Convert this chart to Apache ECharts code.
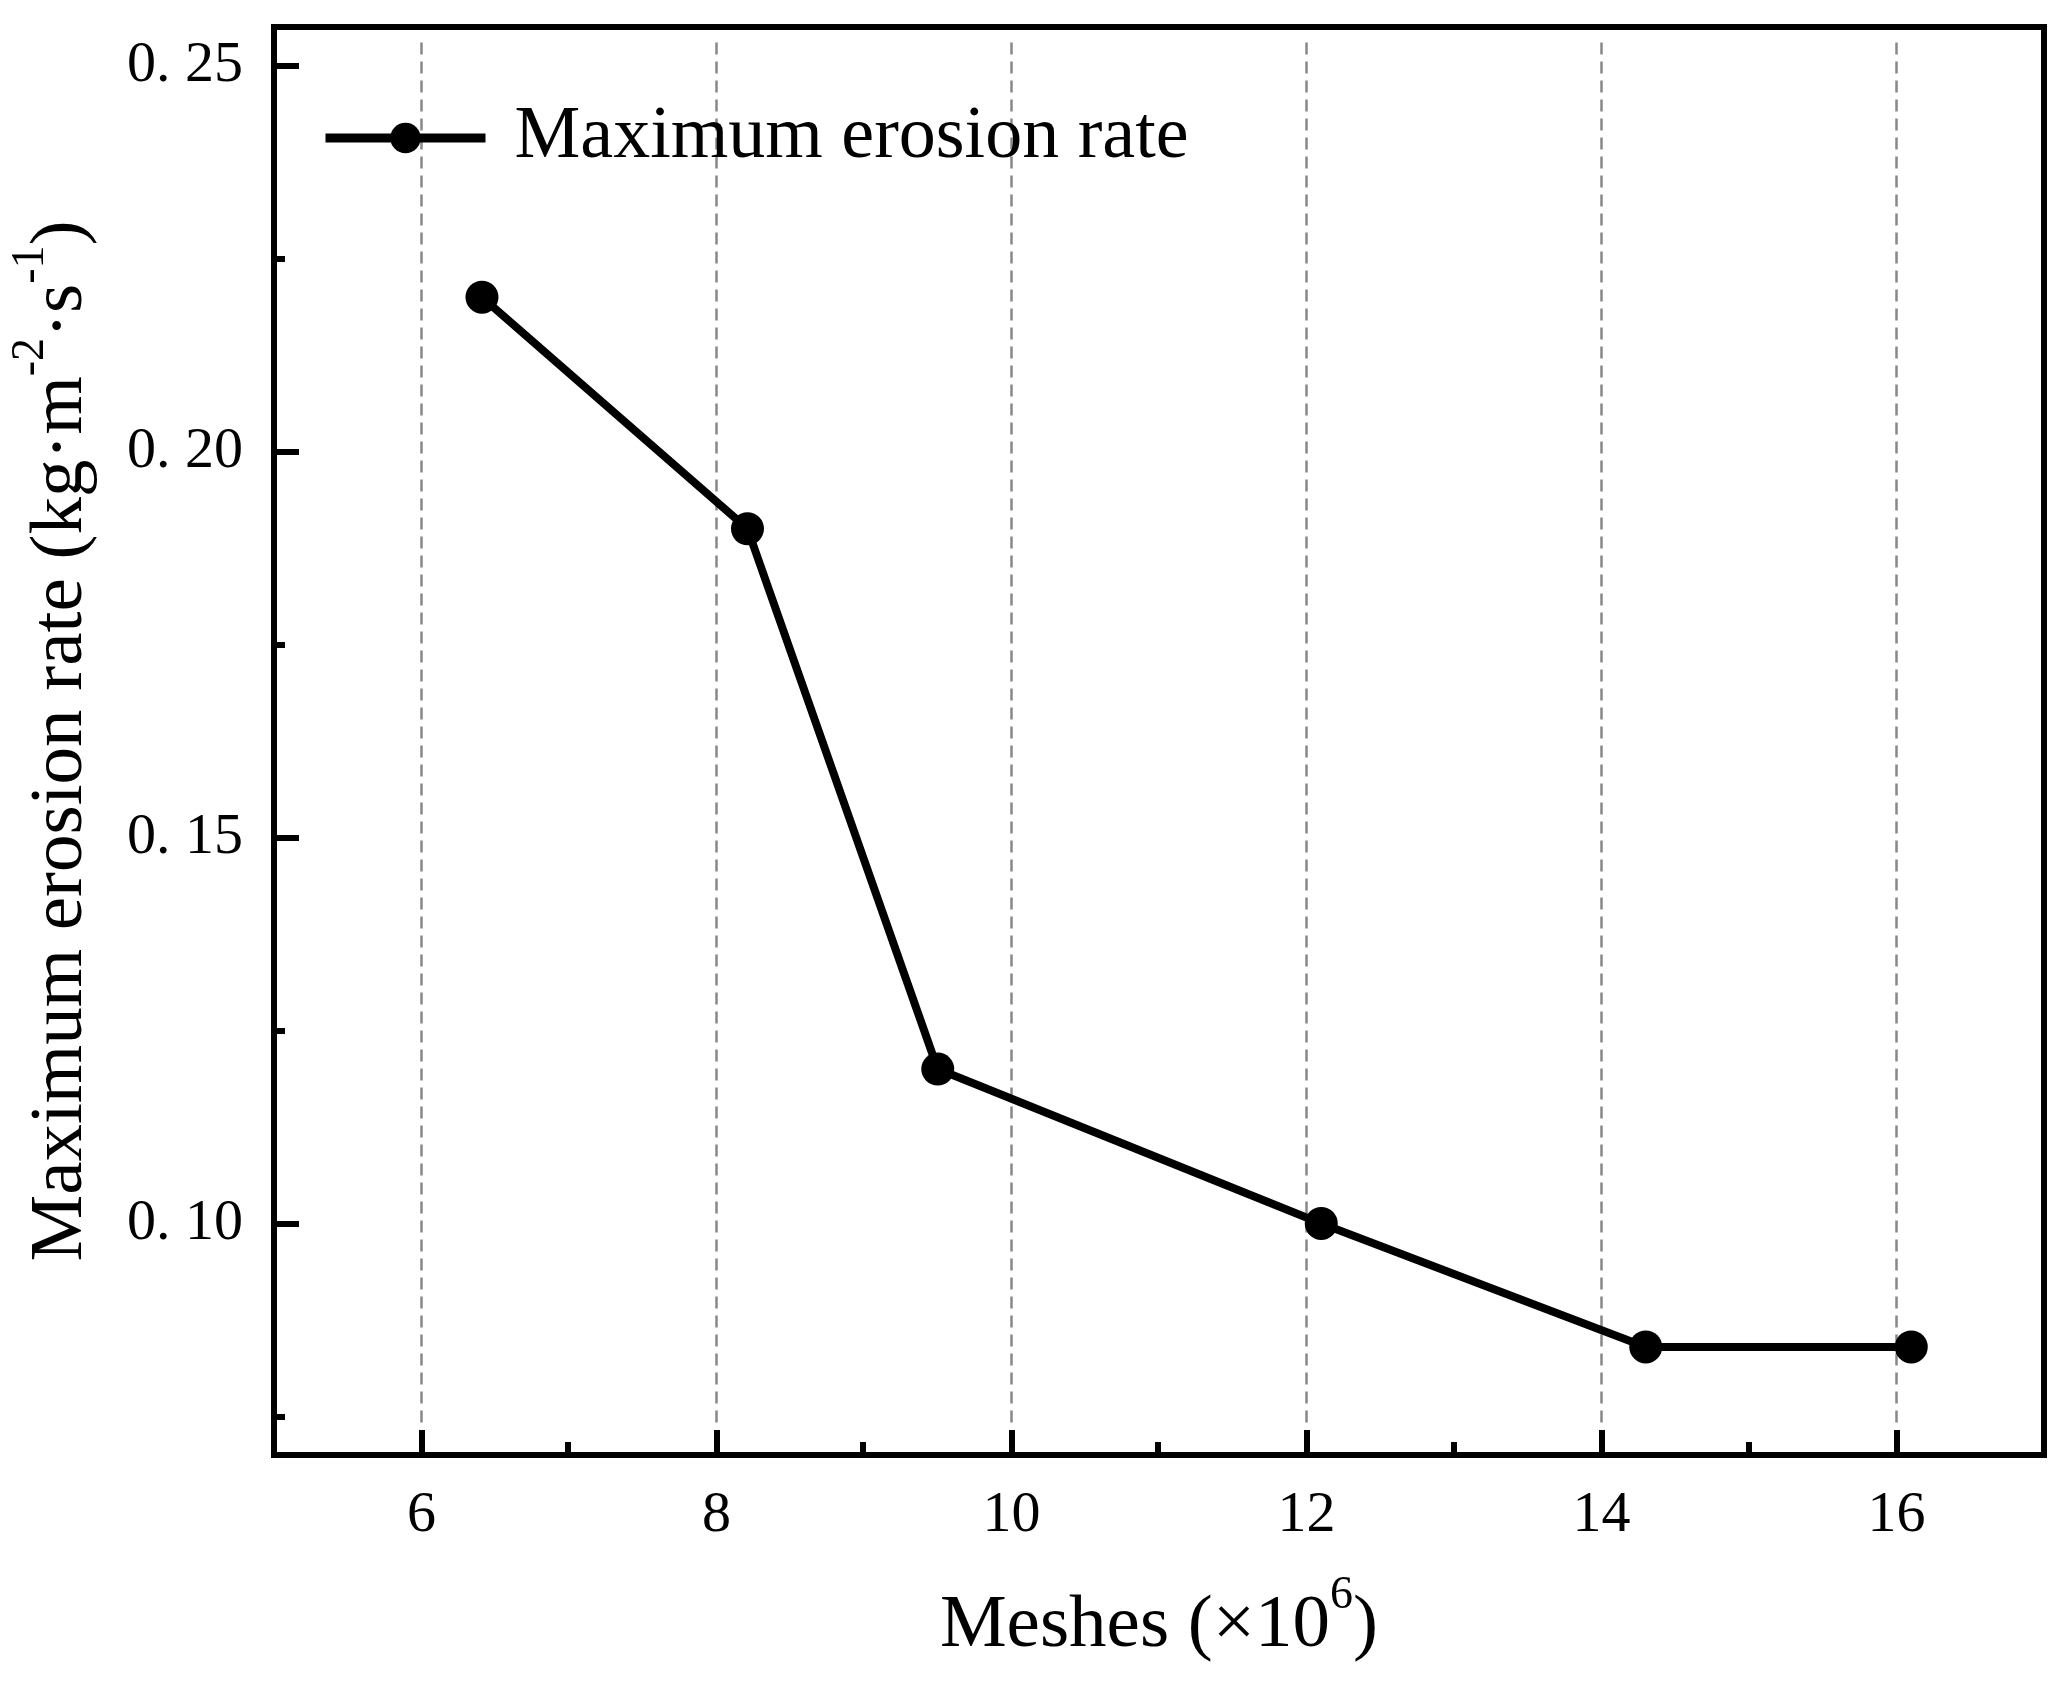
<!DOCTYPE html>
<html>
<head>
<meta charset="utf-8">
<script src="https://cdn.jsdelivr.net/npm/echarts@6/dist/echarts.min.js"></script>
<style>
html, body { margin: 0; padding: 0; background: #fff; }
#container { width: 2072px; height: 1688px; }
</style>
</head>
<body>
<div id="container"></div>
<script>
var dom = document.getElementById("container");
var myChart = echarts.init(dom);

// values
var meshes = [6.41, 8.21, 9.5, 12.1, 14.3, 16.1];
var erosionRate = [0.220, 0.190, 0.120, 0.100, 0.084, 0.084];

var xMajorTicks = [6, 8, 10, 12, 14, 16];
var xMinorTicks = [7, 9, 11, 13, 15];
var yMajorTicks = [0.10, 0.15, 0.20, 0.25];
var yMinorTicks = [0.075, 0.125, 0.175, 0.225];

var font = 'Liberation Serif';
var gridBox = { left: 272, right: 28, top: 27, bottom: 233 };

var seriesData = meshes.map(function (x, i) {
    return [x, erosionRate[i]];
});

// superscripts: small token pinned to the top of a taller line
var nameRich = {
    n: { fontFamily: font, fontSize: 75, color: '#000', lineHeight: 106 },
    s: { fontFamily: font, fontSize: 46, color: '#000', lineHeight: 46, verticalAlign: 'top' }
};

// dashed guides stop a little short of the frame, like the original
var guideLo = 0.0742, guideHi = 0.2532;

var option = {
    backgroundColor: '#fff',
    animation: false,
    grid: [
        Object.assign({ show: true, borderColor: '#000', borderWidth: 6, backgroundColor: 'transparent' }, gridBox),
        Object.assign({ show: false }, gridBox)
    ],
    legend: {
        left: 316,
        top: 96,
        itemWidth: 160,
        itemHeight: 38,
        lineStyle: { width: 9 },
        textStyle: { fontFamily: font, fontSize: 74, color: '#000', padding: [0, 0, 0, 24] },
        data: ['Maximum erosion rate']
    },
    xAxis: [{
        type: 'value',
        gridIndex: 0,
        min: 5,
        max: 17,
        name: '{n|Meshes (×10}{s|6}{n|)}',
        nameLocation: 'middle',
        nameGap: 118,
        nameTextStyle: { rich: nameRich },
        axisLine: { show: true, lineStyle: { color: '#000', width: 6 } },
        axisTick: { show: true, inside: true, length: 25, customValues: xMajorTicks, lineStyle: { color: '#000', width: 6 } },
        axisLabel: { customValues: xMajorTicks, margin: 32, fontFamily: font, fontSize: 58, color: '#000' },
        splitLine: { show: false }
    }, {
        type: 'value',
        gridIndex: 1,
        min: 5,
        max: 17,
        axisLine: { show: false },
        axisTick: { show: true, inside: true, length: 13, customValues: xMinorTicks, lineStyle: { color: '#000', width: 6 } },
        axisLabel: { show: false },
        splitLine: { show: false }
    }],
    yAxis: [{
        type: 'value',
        gridIndex: 0,
        min: 0.07,
        max: 0.255,
        name: '{n|Maximum erosion rate (kg·m}{s|-2}{n|·s}{s|-1}{n|)}',
        nameLocation: 'middle',
        nameGap: 160,
        nameTextStyle: { rich: nameRich },
        axisLine: { show: true, lineStyle: { color: '#000', width: 6 } },
        axisTick: { show: true, inside: true, length: 25, customValues: yMajorTicks, lineStyle: { color: '#000', width: 6 } },
        axisLabel: {
            customValues: yMajorTicks,
            margin: 31,
            fontFamily: font,
            fontSize: 58,
            color: '#000',
            formatter: function (v) {
                return v.toFixed(2).replace('.', '. ');
            }
        },
        splitLine: { show: false }
    }, {
        type: 'value',
        gridIndex: 1,
        min: 0.07,
        max: 0.255,
        axisLine: { show: false },
        axisTick: { show: true, inside: true, length: 13, customValues: yMinorTicks, lineStyle: { color: '#000', width: 6 } },
        axisLabel: { show: false },
        splitLine: { show: false }
    }],
    series: [{
        name: 'Maximum erosion rate',
        type: 'line',
        xAxisIndex: 0,
        yAxisIndex: 0,
        z: 3,
        data: seriesData,
        symbol: 'circle',
        symbolSize: 33,
        lineStyle: { color: '#000', width: 8 },
        itemStyle: { color: '#000' },
        markLine: {
            silent: true,
            symbol: 'none',
            z: 1,
            label: { show: false },
            lineStyle: { color: '#888', width: 2.5, type: [12, 7] },
            data: xMajorTicks.map(function (x) {
                return [{ coord: [x, guideLo] }, { coord: [x, guideHi] }];
            })
        }
    }]
};

myChart.setOption(option);
</script>
</body>
</html>
